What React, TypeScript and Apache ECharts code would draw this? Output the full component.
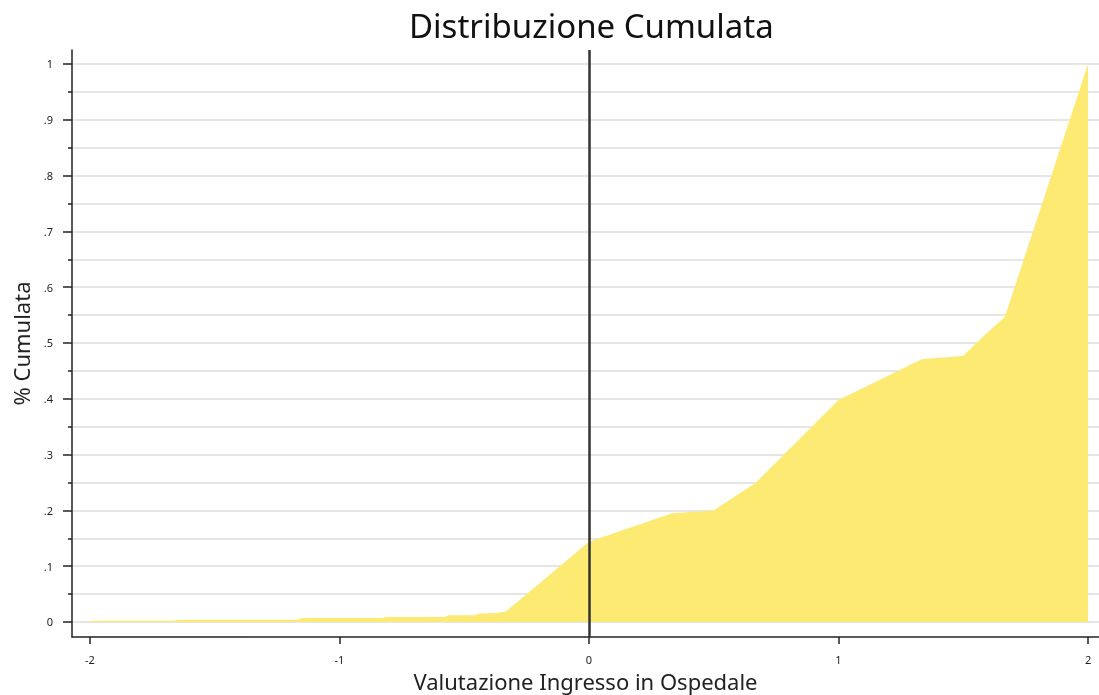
import React, { useEffect, useRef } from "react";
import * as echarts from "echarts";

const xValues = [-2, -1.667, -1.65, -1.17, -1.15, -0.83, -0.81, -0.58, -0.56, -0.46, -0.44, -0.37, -0.333, 0, 0.333, 0.5, 0.667, 1, 1.333, 1.5, 1.583, 1.667, 2];
const yValues = [0.002, 0.002, 0.004, 0.004, 0.007, 0.007, 0.009, 0.009, 0.012, 0.012, 0.015, 0.016, 0.019, 0.144, 0.195, 0.2, 0.249, 0.398, 0.471, 0.477, 0.513, 0.547, 1.0];
const xTicks = [-2, -1, 0, 1, 2];
const yMajor = [0, 0.1, 0.2, 0.3, 0.4, 0.5, 0.6, 0.7, 0.8, 0.9, 1];
const yMinor = [0.05, 0.15, 0.25, 0.35, 0.45, 0.55, 0.65, 0.75, 0.85, 0.95];

const fmtY = (v: number) => {
  const r = Math.round(v * 10) / 10;
  if (r === 0) return "0";
  if (r === 1) return "1";
  return "." + Math.round(r * 10);
};

export default function App() {
  const ref = useRef<HTMLDivElement>(null);
  useEffect(() => {
    if (!ref.current) return;
    const chart = echarts.init(ref.current, null, { renderer: "svg" });
    const font = "'Noto Sans', 'Open Sans', sans-serif";
    const yBase = {
      type: "value",
      min: -0.0269,
      max: 1.025,
    };
    chart.setOption({
      animation: false,
      textStyle: { fontFamily: font },
      title: {
        text: "Distribuzione Cumulata",
        left: 404,
        top: 4,
        textStyle: { fontSize: 33, fontWeight: "normal", color: "#111", fontFamily: font },
      },
      grid: { left: 72, right: 0, top: 50, bottom: 58, containLabel: false, outerBoundsMode: "none" },
      xAxis: {
        type: "value",
        min: -2.0721,
        max: 2.044,
        name: "Valutazione Ingresso in Ospedale",
        nameLocation: "middle",
        nameGap: 24,
        nameTextStyle: { fontSize: 22, lineHeight: 22, color: "#222", fontFamily: font },
        axisLine: { show: true, onZero: false, lineStyle: { color: "#222", width: 1.5 } },
        axisTick: { show: true, length: 7, customValues: xTicks, lineStyle: { color: "#222", width: 1.5 } },
        axisLabel: { customValues: xTicks, margin: 17, fontSize: 11, color: "#222", fontFamily: font },
        splitLine: { show: false },
      },
      yAxis: [
        {
          ...yBase,
          name: "% Cumulata",
          nameLocation: "middle",
          nameGap: 40,
          nameTextStyle: { fontSize: 22, color: "#222", fontFamily: font },
          axisLine: { show: true, onZero: false, lineStyle: { color: "#222", width: 1.5 } },
          axisTick: { show: true, length: 9, customValues: yMajor, lineStyle: { color: "#222", width: 1.5 } },
          axisLabel: { customValues: yMajor, margin: 19, fontSize: 11, color: "#222", formatter: fmtY, fontFamily: font },
          splitLine: { show: true, lineStyle: { color: "#e6e6e6", width: 2 } },
        },
        {
          ...yBase,
          position: "left",
          axisLine: { show: false, onZero: false },
          axisTick: { show: true, length: 4, customValues: yMinor, lineStyle: { color: "#222", width: 1.5 } },
          axisLabel: { show: false, customValues: yMinor },
          splitLine: { show: true, lineStyle: { color: "#e6e6e6", width: 2 } },
        },
      ],
      series: [
        {
          type: "line",
          data: xValues.map((x, i) => [x, yValues[i]]),
          showSymbol: false,
          symbol: "none",
          lineStyle: { width: 0, color: "#fcea72" },
          areaStyle: { color: "#fcea72", opacity: 1, origin: 0 },
          z: 3,
          markLine: {
            silent: true,
            symbol: "none",
            label: { show: false },
            lineStyle: { color: "#333", width: 2.5, type: "solid" },
            data: [{ xAxis: 0 }],
          },
        },
      ],
    });
    return () => chart.dispose();
  }, []);
  return <div ref={ref} style={{ position: "fixed", left: 0, top: 0, width: 1099, height: 695 }} />;
}
